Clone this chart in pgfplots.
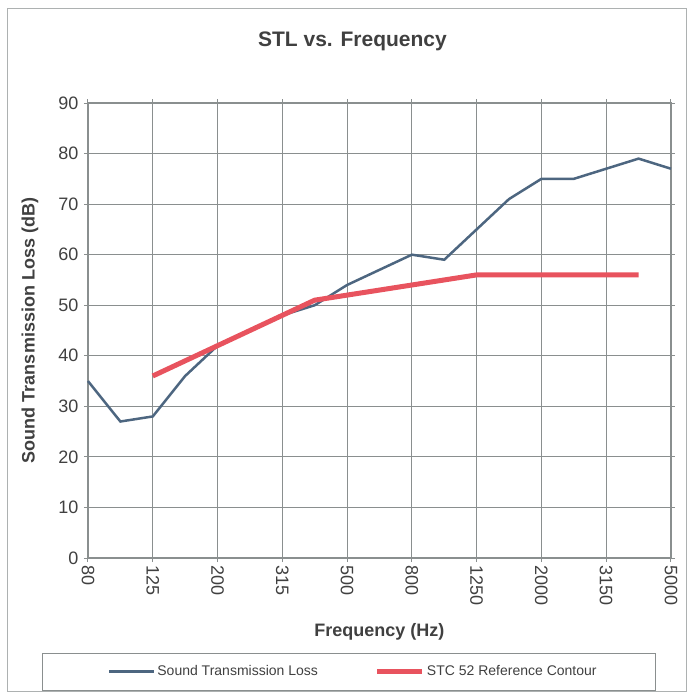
\documentclass[border=0pt]{standalone}
\usepackage{pgfplots}
\pgfplotsset{compat=1.18}
\usepackage{fontspec}
\setmainfont{Liberation Sans}
\definecolor{stl}{HTML}{4D6680}
\definecolor{stc}{HTML}{E8535E}
\definecolor{gridc}{HTML}{8A8F8F}
\definecolor{txt}{HTML}{404040}
\begin{document}
\begin{tikzpicture}
\begin{axis}[
  scale only axis, width=583pt, height=455pt,
  xmin=0, xmax=18, ymin=0, ymax=90,
  xtick={0,2,...,18},
  xticklabels={80,125,200,315,500,800,1250,2000,3150,5000},
  ytick={0,10,...,90},
  grid=major,
  grid style={gridc, line width=0.9pt},
  axis line style={gridc, line width=1.2pt},
  tick style={gridc, line width=1pt},
  tick align=outside, major tick length=4pt,
  /pgf/number format/assume math mode=true,
  ticklabel style={font=\fontsize{18}{20}\selectfont, text=txt},
  xticklabel style={rotate=-90, anchor=west, xshift=0pt},
  yticklabel style={xshift=-2pt},
  title={STL vs. Frequency},
  title style={font=\fontsize{21}{24}\selectfont\bfseries, text=txt, at={(axis description cs:0.4537,1.123)}, anchor=center},
  xlabel={Frequency (Hz)},
  xlabel style={font=\fontsize{18}{20}\selectfont\bfseries, text=txt, at={(axis description cs:0.5,-0.163)}, anchor=center},
  ylabel={Sound Transmission Loss (dB)},
  ylabel style={font=\fontsize{18}{20}\selectfont\bfseries, text=txt, at={(axis description cs:-0.0995,0.5)}, anchor=center, rotate=0},
  clip=false,
  legend columns=2,
  legend style={at={(axis description cs:0.455,-0.249)}, anchor=center, draw=none, fill=none,
    font=\fontsize{14}{16}\selectfont, text=txt,
    /tikz/every even column/.append style={column sep=55pt}},
  legend image code/.code={\draw[#1] (0pt,0pt) -- (45pt,0pt);},
]
\addplot[stl, line width=2.5pt] coordinates {
 (0,35) (1,27) (2,28) (3,36) (4,42) (5,45) (6,48) (7,50) (8,54) (9,57)
 (10,60) (11,59) (12,65) (13,71) (14,75) (15,75) (16,77) (17,79) (18,77)};
\addlegendentry{Sound Transmission Loss}
\addplot[stc, line width=5pt] coordinates {
 (2,36) (3,39) (4,42) (5,45) (6,48) (7,51) (8,52) (9,53) (10,54) (11,55)
 (12,56) (13,56) (14,56) (15,56) (16,56) (17,56)};
\addlegendentry{STC 52 Reference Contour}
\draw[gridc, line width=0.8pt] (axis description cs:-0.0789,-0.2901) rectangle (axis description cs:0.9726,-0.2088);
\draw[gridc!70, line width=1pt] (axis description cs:-0.1372,-0.2934) rectangle (axis description cs:1.0266,1.2088);
\path (axis description cs:-0.1509,1.2264) (axis description cs:1.0274,-0.2945);
\end{axis}
\end{tikzpicture}
\end{document}
